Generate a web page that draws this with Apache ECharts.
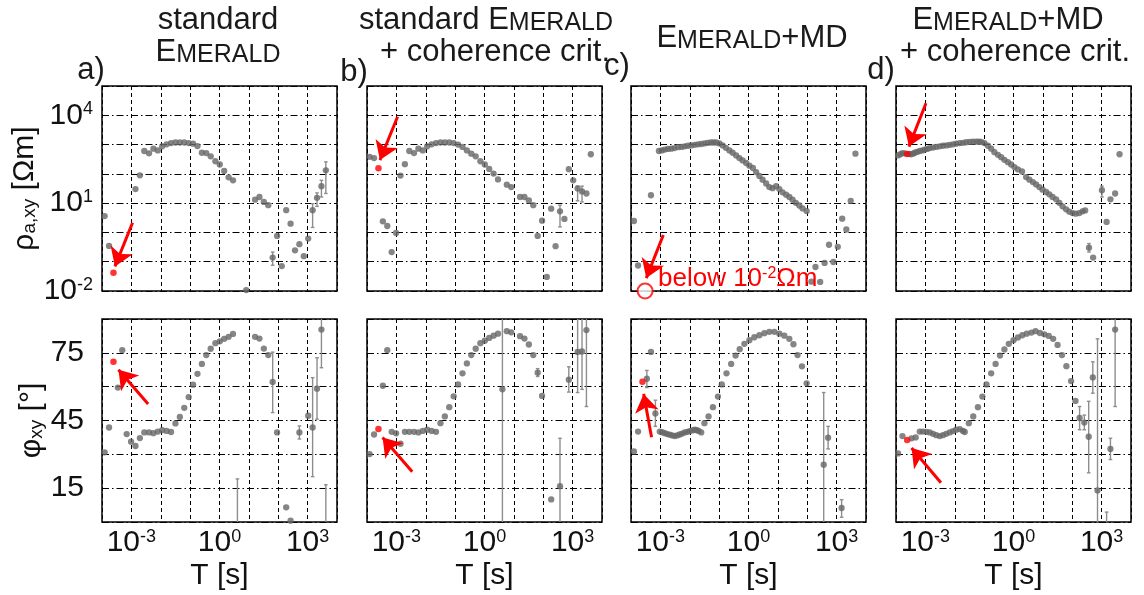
<!DOCTYPE html>
<html><head><meta charset="utf-8">
<script src="https://cdn.jsdelivr.net/npm/echarts@6/dist/echarts.min.js"></script>
<style>html,body{margin:0;padding:0;background:#fff}#c{width:1144px;height:595px}</style>
</head><body><div id="c"></div>
<script>
// ---- data: log10(T [s]) , log10(rho [Ohm m]) / phase [deg] ----
const rhoA = [[-3.91,0.56],[-3.76,-0.46],[-2.86,1.48],[-2.71,1.95],[-2.56,2.78],[-2.40,2.70],[-2.25,2.86],[-2.10,2.80],[-1.95,2.94],[-1.80,3.01],[-1.65,3.05],[-1.50,3.07],[-1.35,3.07],[-1.20,3.07],[-1.05,3.05],[-0.90,3.03],[-0.75,2.95],[-0.60,2.72],[-0.45,2.71],[-0.30,2.60],[-0.14,2.43],[0.01,2.32],[0.16,2.10],[0.31,1.88],[0.46,1.78],[0.91,-1.97],[1.21,1.12],[1.36,1.21],[1.51,1.04],[1.66,0.93],[1.81,-0.86],[1.96,-0.12],[2.12,-1.15],[2.27,0.76],[2.42,0.30],[2.57,-0.61],[2.72,-0.40],[2.87,-0.81],[3.02,-0.21],[3.17,0.76],[3.32,1.18],[3.47,1.58],[3.62,2.12]];
const rhoAErr = [[1.81,-1.12,-0.67],[3.17,0.17,0.98],[3.32,0.89,1.35],[3.47,1.21,1.78],[3.62,1.33,2.41]];
const phiA = [[-3.91,30.9],[-3.76,41.9],[-3.46,59.6],[-3.31,76.2],[-3.16,39.0],[-3.01,35.6],[-2.86,33.7],[-2.71,37.2],[-2.56,39.7],[-2.40,39.7],[-2.25,39.4],[-2.10,40.1],[-1.95,40.7],[-1.80,40.4],[-1.65,39.9],[-1.50,43.7],[-1.35,46.6],[-1.20,50.6],[-1.05,55.4],[-0.90,60.9],[-0.75,65.7],[-0.60,70.1],[-0.45,74.0],[-0.30,76.8],[-0.14,79.3],[0.01,80.1],[0.16,81.2],[0.31,82.1],[0.46,83.4],[1.21,82.1],[1.36,81.3],[1.51,76.9],[1.66,74.0],[1.81,62.1],[1.96,39.7],[2.27,6.5],[2.42,0.6],[2.72,39.7],[3.02,47.1],[3.17,41.9],[3.32,59.1],[3.47,85.3]];
const phiAErr = [[0.61,-5,19.1],[1.81,48.5,75.3],[2.72,36.8,42.6],[3.17,20.1,64.0],[3.32,45.6,72.8],[3.47,68.4,95],[3.62,-5,16.5]];

const rhoB = [[-3.91,2.58],[-3.76,2.54],[-3.46,0.38],[-3.31,0.22],[-3.16,-0.67],[-3.01,-0.02],[-2.86,1.94],[-2.71,2.33],[-2.56,2.78],[-2.40,2.71],[-2.25,2.86],[-2.10,2.80],[-1.95,2.94],[-1.80,3.01],[-1.65,3.05],[-1.50,3.07],[-1.35,3.07],[-1.20,3.07],[-1.05,3.05],[-0.90,3.00],[-0.75,2.92],[-0.60,2.80],[-0.45,2.69],[-0.30,2.60],[-0.14,2.43],[0.01,2.32],[0.16,2.17],[0.31,2.01],[0.46,1.81],[0.76,1.63],[0.91,1.55],[1.21,1.21],[1.36,1.21],[1.51,1.09],[1.66,0.93],[1.81,-0.12],[1.96,0.40],[2.12,-1.52],[2.27,0.81],[2.42,-0.47],[2.57,0.72],[2.72,0.46],[2.87,2.16],[3.02,1.78],[3.17,1.50],[3.32,1.40],[3.47,1.33],[3.62,2.67]];
const rhoBErr = [[2.57,0.19,0.93],[3.17,1.08,1.58],[3.32,1.04,1.58]];
const phiB = [[-3.91,30.1],[-3.76,38.8],[-3.46,60.4],[-3.31,76.2],[-3.16,40.0],[-3.01,39.3],[-2.86,34.7],[-2.71,40.0],[-2.56,40.0],[-2.40,40.0],[-2.25,39.7],[-2.10,40.4],[-1.95,40.9],[-1.80,40.4],[-1.65,40.0],[-1.50,43.8],[-1.35,46.8],[-1.20,50.9],[-1.05,55.7],[-0.90,61.0],[-0.75,65.9],[-0.60,70.3],[-0.45,74.0],[-0.30,76.8],[-0.14,79.3],[0.01,80.4],[0.16,81.6],[0.31,82.6],[0.46,83.5],[0.61,58.8],[0.76,84.6],[0.91,84.1],[1.21,82.4],[1.36,81.3],[1.51,78.7],[1.66,74.0],[1.81,66.2],[1.96,55.9],[2.27,10.0],[2.57,15.9],[2.87,63.1],[3.17,75.4],[3.32,75.6],[3.47,85.1]];
const phiBErr = [[0.61,-5,95],[1.81,64.5,68.0],[2.57,-5,37.1],[2.87,57.6,68.8],[3.17,57.4,95],[3.32,58.8,95],[3.47,51.2,95]];

const rhoC = [[-3.90,0.39],[-3.76,-1.13],[-3.32,1.27],[-3.05,2.78],[-2.95,2.80],[-2.85,2.83],[-2.74,2.85],[-2.63,2.86],[-2.52,2.88],[-2.40,2.91],[-2.28,2.92],[-2.17,2.94],[-2.06,2.96],[-1.95,2.97],[-1.83,2.99],[-1.72,3.01],[-1.61,3.02],[-1.50,3.04],[-1.39,3.06],[-1.28,3.07],[-1.19,3.07],[-1.10,3.07],[-0.99,3.04],[-0.88,2.97],[-0.77,2.89],[-0.65,2.80],[-0.54,2.72],[-0.42,2.63],[-0.31,2.54],[-0.20,2.46],[-0.08,2.37],[0.03,2.28],[0.15,2.20],[0.26,2.06],[0.37,1.93],[0.48,1.80],[0.60,1.67],[0.71,1.55],[0.82,1.51],[0.94,1.58],[1.05,1.48],[1.16,1.37],[1.28,1.29],[1.39,1.21],[1.50,1.12],[1.61,1.01],[1.73,0.92],[1.84,0.82],[1.98,0.73],[2.14,-1.68],[2.28,-1.18],[2.44,-1.69],[2.59,-1.04],[2.74,-0.42],[2.89,-1.01],[3.04,-0.49],[3.19,0.47],[3.33,0.10],[3.48,1.08],[3.64,2.69]];
const rhoCErr = [];
const phiC = [[-3.90,31.3],[-3.76,40.1],[-3.46,63.5],[-3.32,75.4],[-3.17,48.1],[-3.02,40.1],[-2.94,39.8],[-2.85,39.4],[-2.77,39.0],[-2.68,38.7],[-2.60,38.4],[-2.51,38.1],[-2.43,38.4],[-2.34,38.8],[-2.26,39.2],[-2.17,39.7],[-2.08,40.0],[-2.00,40.3],[-1.91,40.6],[-1.83,40.9],[-1.76,40.7],[-1.70,40.4],[-1.61,39.7],[-1.50,43.8],[-1.36,46.8],[-1.21,50.9],[-1.04,55.6],[-0.91,61.0],[-0.75,65.9],[-0.59,70.1],[-0.44,73.8],[-0.30,76.6],[-0.14,79.0],[0.03,80.6],[0.20,81.9],[0.37,82.8],[0.54,83.7],[0.71,84.3],[0.88,84.3],[1.05,83.5],[1.22,82.6],[1.39,81.2],[1.53,78.8],[1.67,74.0],[1.82,69.0],[1.98,61.5],[2.56,25.4],[2.71,37.4],[3.17,6.2]];
const phiCErr = [[-3.46,59.6,67.2],[-3.17,42.4,54.0],[2.56,-5,57.4],[2.71,32.4,42.4],[3.17,2.1,9.9]];

const rhoD = [[-3.93,2.63],[-3.85,2.67],[-3.78,2.71],[-3.70,2.70],[-3.55,2.68],[-3.49,2.67],[-3.42,2.69],[-3.36,2.72],[-3.28,2.75],[-3.19,2.78],[-3.10,2.80],[-3.02,2.83],[-2.94,2.85],[-2.85,2.88],[-2.74,2.90],[-2.63,2.92],[-2.51,2.94],[-2.40,2.96],[-2.28,2.97],[-2.17,2.99],[-2.06,3.01],[-1.95,3.03],[-1.83,3.05],[-1.72,3.06],[-1.61,3.08],[-1.49,3.09],[-1.38,3.10],[-1.27,3.10],[-1.18,3.10],[-1.10,3.09],[-0.99,3.05],[-0.87,2.96],[-0.76,2.86],[-0.65,2.74],[-0.53,2.65],[-0.42,2.57],[-0.31,2.48],[-0.19,2.40],[-0.08,2.32],[0.03,2.23],[0.15,2.15],[0.29,2.08],[0.43,1.89],[0.54,1.80],[0.66,1.72],[0.77,1.64],[0.88,1.55],[0.99,1.46],[1.11,1.38],[1.22,1.30],[1.33,1.21],[1.45,1.13],[1.56,1.01],[1.67,0.89],[1.79,0.79],[1.90,0.71],[2.01,0.66],[2.12,0.64],[2.24,0.66],[2.35,0.72],[2.44,0.75],[2.57,-0.52],[2.71,-0.86],[3.01,1.44],[3.17,0.36],[3.30,1.13],[3.46,1.33],[3.61,2.67]];
const rhoDErr = [[2.57,-0.67,-0.38],[3.01,1.21,1.58]];
const phiD = [[-3.93,30.4],[-3.78,38.1],[-3.47,37.1],[-3.33,37.5],[-3.19,40.1],[-3.08,40.1],[-2.96,40.0],[-2.85,39.7],[-2.74,39.1],[-2.63,38.5],[-2.51,38.1],[-2.40,38.5],[-2.29,39.1],[-2.17,39.7],[-2.06,40.3],[-1.95,40.9],[-1.83,41.2],[-1.72,40.4],[-1.66,39.9],[-1.52,43.8],[-1.37,46.8],[-1.21,50.9],[-1.06,55.6],[-0.92,61.0],[-0.76,65.9],[-0.61,70.1],[-0.46,73.8],[-0.31,76.5],[-0.16,79.0],[0.00,80.6],[0.15,81.8],[0.30,82.8],[0.45,83.5],[0.61,84.0],[0.75,84.6],[0.90,83.8],[1.05,83.2],[1.20,82.5],[1.35,81.2],[1.50,78.5],[1.65,74.0],[1.80,69.1],[1.96,62.5],[2.11,53.7],[2.25,46.1],[2.41,44.1],[2.56,37.8],[2.70,64.1],[2.86,14.0],[3.30,32.4],[3.46,85.3]];
const phiDErr = [[2.25,40.9,51.2],[2.41,40.9,47.4],[2.56,21.8,53.5],[2.70,57.1,71.0],[2.86,-5,81.2],[3.17,-5,4.4],[3.30,27.7,37.1],[3.46,51.2,95]];

// highlighted (red) samples and annotation arrows [start, tip] in data units
const redRho = [[-3.61,-1.38],[-3.61,2.19],[-3.52,-2.0],[-3.62,2.68]];
const redPhi = [[-3.61,71.0],[-3.61,41.2],[-3.61,62.2],[-3.62,36.3]];
const arrowRho = [[[-2.96,0.33],[-3.56,-1.16]],[[-2.96,3.95],[-3.56,2.47]],[[-2.90,-0.09],[-3.48,-1.56]],[[-2.98,4.41],[-3.56,2.93]]];
const arrowPhi = [[[-2.43,52.3],[-3.44,67.5]],[[-2.46,22.3],[-3.47,37.5]],[[-3.30,37.6],[-3.57,56.8]],[[-2.47,17.4],[-3.47,32.8]]];

const xTickLabels = [-3, 0, 3];
const rhoTickLabels = [-2, 1, 4];
const phiTickLabels = [15, 45, 75];

const panelTitles = [
  ['{n|standard}', '{E|E}{m|MERALD}'],
  ['{n|standard }{E|E}{m|MERALD}', '{n|+ coherence crit.}'],
  ['{E|E}{m|MERALD}{n|+MD}'],
  ['{E|E}{m|MERALD}{n|+MD}', '{n|+ coherence crit.}']
];
const panelLetters = ['a)', 'b)', 'c)', 'd)'];

// ---- layout ----
const FONT = '"Liberation Sans", Arial, Helvetica, sans-serif';
const colLeft = [102, 367, 631, 896];
const colW = 235;
const rowTop = [86, 319];
const rowH = [205, 203];
const DOT = '#676767';

const panels = [
  {rho: rhoA, rhoErr: rhoAErr, phi: phiA, phiErr: phiAErr},
  {rho: rhoB, rhoErr: rhoBErr, phi: phiB, phiErr: phiBErr},
  {rho: rhoC, rhoErr: rhoCErr, phi: phiC, phiErr: phiCErr},
  {rho: rhoD, rhoErr: rhoDErr, phi: phiD, phiErr: phiDErr}
];

const supRich = {
  b: {fontSize: 30, fontFamily: FONT, color: '#111'},
  s: {fontSize: 18, fontFamily: FONT, color: '#111', verticalAlign: 'top'}
};
function pow10(v) { return '{b|10}{s|' + v + '}'; }

function errRender(yMin, yMax) {
  return function (params, api) {
    const x = api.value(0), lo0 = api.value(1), hi0 = api.value(2);
    const lo = Math.max(lo0, yMin), hi = Math.min(hi0, yMax);
    const a = api.coord([x, lo]), b = api.coord([x, hi]);
    const st = {stroke: '#8e8e8e', lineWidth: 1.4};
    const ch = [{type: 'line', shape: {x1: a[0], y1: a[1], x2: b[0], y2: b[1]}, style: st}];
    if (lo0 >= yMin) ch.push({type: 'line', shape: {x1: a[0]-1.8, y1: a[1], x2: a[0]+1.8, y2: a[1]}, style: st});
    if (hi0 <= yMax) ch.push({type: 'line', shape: {x1: b[0]-1.8, y1: b[1], x2: b[0]+1.8, y2: b[1]}, style: st});
    return {type: 'group', children: ch};
  };
}

const grid = [], xAxis = [], yAxis = [], series = [];
for (let r = 0; r < 2; r++) {
  for (let p = 0; p < 4; p++) {
    const g = r * 4 + p;
    grid.push({left: colLeft[p], top: rowTop[r], width: colW, height: rowH[r], show: true,
      borderColor: '#000', borderWidth: 1.5, backgroundColor: 'rgba(0,0,0,0)'});
    xAxis.push({
      gridIndex: g, type: 'value', min: -4, max: 4, interval: 1,
      axisLine: {show: false}, axisTick: {show: false},
      splitLine: {show: true, lineStyle: {color: '#000', width: 1, type: [4, 3]}},
      axisLabel: {show: r === 1, margin: 6, fontFamily: FONT,
        formatter: v => xTickLabels.indexOf(v) >= 0 ? pow10(v) : '', rich: supRich},
      name: r === 1 ? 'T [s]' : '', nameLocation: 'middle', nameGap: 39,
      nameTextStyle: {fontSize: 30, fontFamily: FONT, color: '#111'}
    });
    const isRho = r === 0;
    yAxis.push({
      gridIndex: g, type: 'value',
      min: isRho ? -2 : 0, max: isRho ? 5 : 90, interval: isRho ? 1 : 15,
      axisLine: {show: false}, axisTick: {show: false},
      splitLine: {show: true, lineStyle: {color: '#000', width: 1, type: [7, 3, 1.5, 3]}},
      axisLabel: {show: p === 0, margin: isRho ? 9 : 18, fontFamily: FONT, fontSize: 30, color: '#111',
        formatter: isRho ? (v => rhoTickLabels.indexOf(v) >= 0 ? pow10(v) : '')
                         : (v => phiTickLabels.indexOf(v) >= 0 ? String(v) : ''),
        rich: supRich},
      name: p === 0 ? (isRho ? '{r|ρ}{sub|a,xy}{r| [Ωm]}' : '{r|φ}{sub|xy}{r| [°]}') : '',
      nameLocation: 'middle', nameRotate: 90, nameGap: isRho ? 57 : 52,
      nameTextStyle: {fontFamily: FONT, color: '#111', rich: {
        r: {fontSize: 30, fontFamily: FONT, color: '#111'},
        sub: {fontSize: 19, fontFamily: FONT, color: '#111', verticalAlign: 'bottom'}
      }}
    });
    const P = panels[p];
    const yMin = isRho ? -2 : 0, yMax = isRho ? 5 : 90;
    series.push({
      type: 'custom', xAxisIndex: g, yAxisIndex: g, z: 2,
      data: isRho ? P.rhoErr : P.phiErr, encode: {x: 0, y: [1, 2]},
      renderItem: errRender(yMin, yMax), silent: true
    });
    series.push({
      type: 'scatter', xAxisIndex: g, yAxisIndex: g, z: 3, clip: true,
      data: isRho ? P.rho : P.phi, symbol: 'circle', symbolSize: 6.3,
      itemStyle: {color: DOT}, silent: true
    });
    const isCircle = isRho && p === 2;
    const arr = isRho ? arrowRho[p] : arrowPhi[p];
    series.push({
      type: 'scatter', xAxisIndex: g, yAxisIndex: g, z: 4, clip: false,
      data: [isRho ? redRho[p] : redPhi[p]],
      symbol: isCircle ? 'emptyCircle' : 'circle', symbolSize: isCircle ? 15 : 6.5,
      itemStyle: isCircle ? {color: '#f00', borderColor: '#f00', borderWidth: 2} : {color: '#f00'},
      silent: true,
      markLine: {silent: true, symbol: ['none', 'arrow'], symbolSize: 18,
        lineStyle: {color: '#f00', width: 3, type: 'solid'}, label: {show: false},
        data: [[{coord: arr[0]}, {coord: arr[1]}]]}
    });
  }
}

const graphic = [];
const titlePos = [
  [[218, 20], [218, 52]],
  [[486, 20], [495, 52]],
  [[752, 38]],
  [[1008, 20], [1015, 52]]
];
const titleRich = {
  n: {fontSize: 31, fontFamily: FONT, color: '#1a1a1a', verticalAlign: 'bottom'},
  E: {fontSize: 31, fontFamily: FONT, color: '#1a1a1a', verticalAlign: 'bottom'},
  m: {fontSize: 25, fontFamily: FONT, color: '#1a1a1a', verticalAlign: 'bottom'}
};
panelTitles.forEach((lines, p) => {
  lines.forEach((t, i) => {
    graphic.push({type: 'text', x: titlePos[p][i][0], y: titlePos[p][i][1], silent: true,
      style: {text: t, rich: titleRich, font: '31px ' + FONT, fill: '#1a1a1a',
        align: 'center', verticalAlign: 'middle', textAlign: 'center', textVerticalAlign: 'middle'}});
  });
});
const letterPos = [[91, 70], [354, 72], [617, 66], [881, 70]];
panelLetters.forEach((t, p) => {
  graphic.push({type: 'text', x: letterPos[p][0], y: letterPos[p][1], silent: true,
    style: {text: t, font: '31px ' + FONT, fill: '#1a1a1a', align: 'center', verticalAlign: 'middle',
      textAlign: 'center', textVerticalAlign: 'middle'}});
});
graphic.push({type: 'text', x: 658, y: 279, silent: true, z: 10,
  style: {text: '{t|below 10}{s|-2}{t|Ωm}', font: '26px ' + FONT, fill: '#f00',
    align: 'left', verticalAlign: 'middle', textAlign: 'left', textVerticalAlign: 'middle',
    rich: {t: {fontSize: 26, fontFamily: FONT, color: '#f00'},
           s: {fontSize: 16, fontFamily: FONT, color: '#f00', verticalAlign: 'top'}}}});

const chart = echarts.init(document.getElementById('c'), null, {renderer: 'canvas'});
chart.setOption({animation: false, backgroundColor: '#fff', grid, xAxis, yAxis, series, graphic});
</script></body></html>
